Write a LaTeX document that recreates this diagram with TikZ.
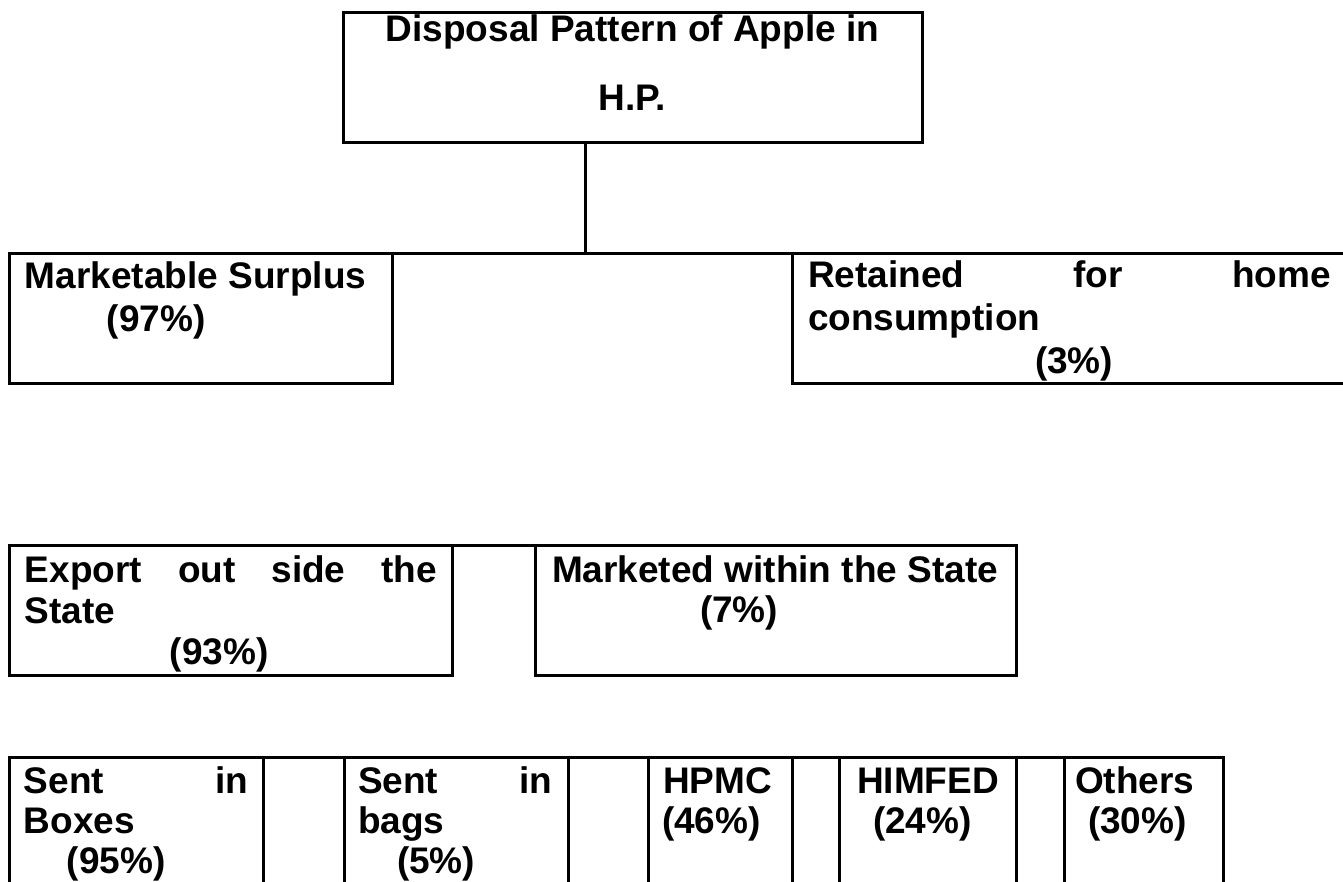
\documentclass[tikz,border=0pt]{standalone}
\usepackage{fontspec}
\setmainfont{Liberation Sans}
\newdimen\cellw
\newdimen\cellfb
% width, height, baselineskip, first baseline offset, lines
\newcommand\boxcell[5]{\cellw=#1\relax\cellfb=#4\relax\vbox to #2{\baselineskip=#3\relax\lineskiplimit=-1000pt\relax #5\vss}}
\newcommand\lnL[2]{\hbox to \cellw{\vrule height\cellfb depth0pt width0pt\hskip#1\relax #2\hss}}
\newcommand\lnJ[3]{\hbox to \cellw{\vrule height\cellfb depth0pt width0pt\hskip#1\relax\hbox to #2{#3}\hss}}
\newcommand\lnC[1]{\hbox to \cellw{\vrule height\cellfb depth0pt width0pt\hss #1\hss}}
\tikzset{
  cellbox/.style={draw=black, line width=3pt, inner sep=0pt, outer sep=0pt, anchor=north west,
    font=\fontsize{37pt}{43pt}\selectfont\bfseries},
  conn/.style={draw=black, line width=3pt}
}
\begin{document}
\begin{tikzpicture}[x=1pt,y=-1pt]
\useasboundingbox (0,0) rectangle (1343,881);
\clip (0,0) rectangle (1343,881);
\node[cellbox] (top) at (343,12) {\boxcell{579pt}{130pt}{69pt}{29pt}{\lnC{Disposal Pattern of Apple in}\lnC{H.P.}}};
\node[cellbox] (ms) at (9,253) {\boxcell{383pt}{130pt}{43pt}{35pt}{\lnL{16pt}{Marketable Surplus}\lnL{98pt}{(97\%)}}};
\node[cellbox] (rt) at (792,253) {\boxcell{560pt}{130pt}{43pt}{34pt}{\lnJ{16pt}{523pt}{Retained\hfill for\hfill home}\lnL{16pt}{consumption}\lnL{243pt}{(3\%)}}};
\node[cellbox] (ex) at (9,545) {\boxcell{443pt}{130pt}{41pt}{37pt}{\lnJ{16pt}{412pt}{Export\hfill out\hfill side\hfill the}\lnL{16pt}{State}\lnL{161pt}{(93\%)}}};
\node[cellbox] (mw) at (535,545) {\boxcell{481pt}{130pt}{40pt}{37pt}{\lnL{17pt}{Marketed within the State}\lnL{165pt}{(7\%)}}};
\node[cellbox] (b1) at (9,757) {\boxcell{254pt}{140pt}{40pt}{36pt}{\lnJ{15pt}{224pt}{Sent\hfill in}\lnL{15pt}{Boxes}\lnL{58pt}{(95\%)}}};
\node[cellbox] (b2) at (344,757) {\boxcell{224pt}{140pt}{40pt}{36pt}{\lnJ{14pt}{194pt}{Sent\hfill in}\lnL{14pt}{bags}\lnL{53pt}{(5\%)}}};
\node[cellbox] (b3) at (648,757) {\boxcell{144pt}{140pt}{40pt}{36pt}{\lnL{15pt}{HPMC}\lnL{14pt}{(46\%)}}};
\node[cellbox] (b4) at (839,757) {\boxcell{177pt}{140pt}{40pt}{36pt}{\lnL{18pt}{HIMFED}\lnL{34pt}{(24\%)}}};
\node[cellbox] (b5) at (1064,757) {\boxcell{159pt}{140pt}{40pt}{36pt}{\lnL{11pt}{Others}\lnL{24pt}{(30\%)}}};
\coordinate (stem) at (top.south west -| 585,0);
\draw[conn] (stem |- top.south) -- (stem |- ms.north);
\draw[conn] (ms.north east) -- (rt.north west);
\draw[conn] (ex.north east) -- (mw.north west);
\draw[conn] (b1.north east) -- (b2.north west);
\draw[conn] (b2.north east) -- (b3.north west);
\draw[conn] (b3.north east) -- (b4.north west);
\draw[conn] (b4.north east) -- (b5.north west);
\end{tikzpicture}
\end{document}
